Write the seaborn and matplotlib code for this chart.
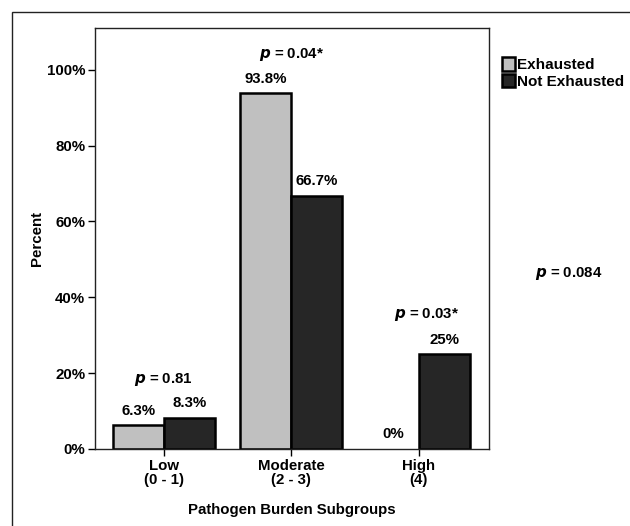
import pandas as pd
import seaborn as sns
import matplotlib.pyplot as plt
from matplotlib.patches import Rectangle

# data
groups = ["Low\n(0 - 1)", "Moderate\n(2 - 3)", "High\n(4)"]
status = ["Exhausted", "Not Exhausted"]
exhausted = [6.3, 93.8, 0.0]
not_exhausted = [8.3, 66.7, 25.0]
exhausted_labels = ["6.3%", "93.8%", "0%"]
not_exhausted_labels = ["8.3%", "66.7%", "25%"]
p_texts = ["0.81", "0.04*", "0.03*"]
p_levels = [18.2, 104.0, 35.4]
yticks = [0, 20, 40, 60, 80, 100]

df = pd.DataFrame({
    "group": groups * 2,
    "status": [status[0]] * 3 + [status[1]] * 3,
    "pct": exhausted + not_exhausted,
})

sns.set_style("white")
plt.rcParams["font.family"] = ["Liberation Sans", "DejaVu Sans"]
plt.rcParams["font.weight"] = "bold"
plt.rcParams["text.color"] = "black"
plt.rcParams["axes.labelcolor"] = "black"
plt.rcParams["xtick.color"] = "black"
plt.rcParams["ytick.color"] = "black"

fs = 10.8

fig = plt.figure(figsize=(6.3, 5.26), dpi=100)
ax = fig.add_axes([0.1508, 0.1464, 0.6254, 0.8004])

sns.barplot(data=df, x="group", y="pct", hue="status", order=groups,
            hue_order=status, palette=["#c0c0c0", "#262626"],
            edgecolor="black", linewidth=1.8, width=0.8, ax=ax,
            legend=False)

# zero-height bar shows no outline in the original
for bar in ax.patches:
    if bar.get_height() == 0:
        bar.set_visible(False)

ax.set_xlim(-0.54, 2.55)
ax.set_ylim(0, 111)
ax.set_yticks(yticks)
ax.set_yticklabels([f"{t}%" for t in yticks], fontsize=fs, fontweight="bold")
ax.set_xticks(range(len(groups)))
ax.set_xticklabels(groups, fontsize=fs, fontweight="bold", linespacing=1.05)
ax.tick_params(axis="both", length=5, width=1, direction="out",
               left=True, bottom=True, pad=2)
for s in ax.spines.values():
    s.set_color("#222222")
    s.set_linewidth(1.0)

ax.set_ylabel("Percent", fontsize=fs, fontweight="bold", labelpad=2)
ax.set_xlabel("Pathogen Burden Subgroups", fontsize=fs, fontweight="bold",
              labelpad=11)

# bar value labels
for i in range(len(groups)):
    ax.text(i - 0.2, exhausted[i] + 2.0, exhausted_labels[i], ha="center",
            va="bottom", fontsize=fs, fontweight="bold")
    ax.text(i + 0.2, not_exhausted[i] + 2.0, not_exhausted_labels[i],
            ha="center", va="bottom", fontsize=fs, fontweight="bold")

# p-values per group
p_x = [0.0, 1.0, 2.06]
for i in range(len(groups)):
    ax.text(p_x[i], p_levels[i], f"$\\bf{{\\it{{p}}}}$ = {p_texts[i]}",
            ha="center", va="center", fontsize=fs, fontweight="bold")

# overall p-value
fig.text(569 / 630, 1 - 273 / 526, "$\\bf{\\it{p}}$ = 0.084", ha="center",
         va="center", fontsize=fs, fontweight="bold")

# legend
handles = [Rectangle((0, 0), 1, 1, facecolor=c, edgecolor="black", linewidth=1.8)
           for c in ["#c0c0c0", "#262626"]]
fig.legend(handles, status, loc="upper left",
           bbox_to_anchor=(502 / 630, 1 - 57 / 526), frameon=False,
           handlelength=0.85, handleheight=1.0, handletextpad=0.15,
           labelspacing=0.1, borderaxespad=0, borderpad=0,
           prop={"size": 11, "weight": "bold"})

# outer frame
fig.patches.append(Rectangle((12 / 630, -0.01), 1.0, 1 - 12 / 526 + 0.01,
                             transform=fig.transFigure, fill=False,
                             edgecolor="#222222", linewidth=1.0))

fig.savefig("out.png", dpi=100)
